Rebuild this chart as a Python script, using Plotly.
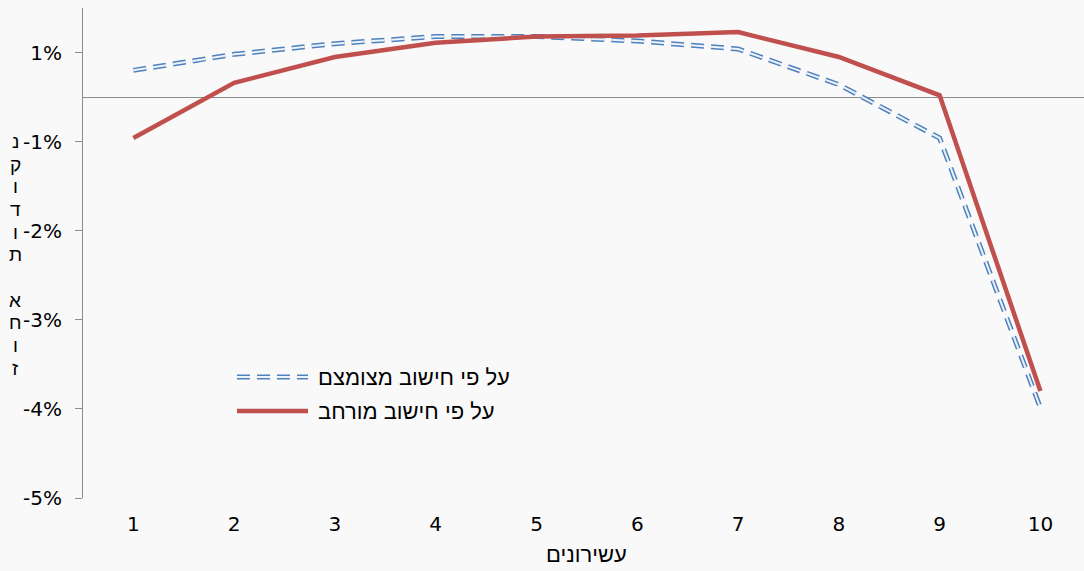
import plotly.graph_objects as go

# Income deciles and the change (percentage points) under two calculation methods
deciles = [1, 2, 3, 4, 5, 6, 7, 8, 9, 10]
restricted = [0.30, 0.48, 0.60, 0.68, 0.68, 0.63, 0.54, 0.14, -0.46, -3.49]
extended = [-0.46, 0.16, 0.45, 0.61, 0.68, 0.69, 0.73, 0.45, 0.02, -3.30]

restricted_name = "על פי חישוב מצומצם"
extended_name = "על פי חישוב מורחב"
x_title = "עשירונים"
y_title = "נקודות אחוז"

# Y ticks sit on the half-percent grid and are shown rounded to whole percents
tick_values = [0.5, -0.5, -1.5, -2.5, -3.5, -4.5]
tick_labels = ["1%", "-1%", "-2%", "-3%", "-4%", "-5%"]

BLUE = "#4f81bd"
BLUE_INNER = "#eef3fa"
RED = "#c0504d"
AXIS_GRAY = "#8c8c8c"
BG = "#f9f9f9"
NUM_FONT = "DejaVu Sans"
HEB_FONT = "Liberation Sans"
DASH = "13px,7px"

W, H = 1084, 571
M_L, M_R, M_T, M_B = 83, 0, 7.5, 73
PLOT_W = W - M_L - M_R
PLOT_H = H - M_T - M_B

fig = go.Figure()

# Restricted calculation: hollow dashed line (outer blue stroke + light core)
fig.add_trace(go.Scatter(x=deciles, y=restricted, mode="lines", name=restricted_name,
                         line=dict(color=BLUE, width=5, dash=DASH)))
fig.add_trace(go.Scatter(x=deciles, y=restricted, mode="lines", name=restricted_name,
                         line=dict(color=BLUE_INNER, width=2, dash=DASH)))
# Extended calculation: solid red line
fig.add_trace(go.Scatter(x=deciles, y=extended, mode="lines", name=extended_name,
                         line=dict(color=RED, width=4.5)))


def px_x(px):
    return (px - M_L) / PLOT_W


def px_y(py):
    return (H - M_B - py) / PLOT_H


shapes = []
annotations = []

# Hand-drawn legend with long line samples
legend_rows = [
    (377, restricted_name, [(BLUE, 5), (BLUE_INNER, 2)], DASH),
    (411, extended_name, [(RED, 4.5)], "solid"),
]
for py, label, strokes, dash in legend_rows:
    for color, width in strokes:
        shapes.append(dict(type="line", xref="paper", yref="paper",
                           x0=px_x(237), x1=px_x(308), y0=px_y(py), y1=px_y(py),
                           line=dict(color=color, width=width, dash=dash)))
    annotations.append(dict(text=label, xref="paper", yref="paper",
                            x=px_x(316), y=px_y(py), xanchor="left", yanchor="middle",
                            showarrow=False, font=dict(family=HEB_FONT, size=22, color="#000")))

# Vertical y-axis title, one letter per row
row_step = 22.7
for i, ch in enumerate(y_title):
    if ch == " ":
        continue
    annotations.append(dict(text=ch, xref="paper", yref="paper",
                            x=px_x(15), y=px_y(141 + i * row_step),
                            xanchor="center", yanchor="middle", showarrow=False,
                            font=dict(family=HEB_FONT, size=19, color="#000")))

# X-axis title
annotations.append(dict(text=x_title, xref="x", yref="paper", x=5.5, y=px_y(555),
                        xanchor="center", yanchor="middle", showarrow=False,
                        font=dict(family=HEB_FONT, size=22, color="#000")))

fig.update_layout(
    width=W, height=H,
    margin=dict(l=M_L, r=M_R, t=M_T, b=M_B, pad=0),
    paper_bgcolor=BG, plot_bgcolor=BG,
    showlegend=False,
    font=dict(family=NUM_FONT, size=20, color="#000"),
    shapes=shapes,
    annotations=annotations,
    hovermode=False,
    xaxis=dict(
        range=[0.5, 0.5 + PLOT_W / 100.78],
        tickmode="array", tickvals=deciles, ticktext=[str(d) for d in deciles],
        showgrid=False, zeroline=False, showline=False, ticks="",
        ticklabelstandoff=12,
        tickfont=dict(family=NUM_FONT, size=20, color="#000"),
    ),
    yaxis=dict(
        range=[-4.5, 1.0],
        tickmode="array", tickvals=tick_values, ticktext=tick_labels,
        showgrid=False,
        zeroline=True, zerolinecolor=AXIS_GRAY, zerolinewidth=1,
        showline=True, linecolor=AXIS_GRAY, linewidth=1,
        ticks="outside", ticklen=7, tickcolor=AXIS_GRAY, tickwidth=1,
        ticklabelstandoff=9,
        tickfont=dict(family=NUM_FONT, size=20, color="#000"),
    ),
)

fig.write_html("out.html")
